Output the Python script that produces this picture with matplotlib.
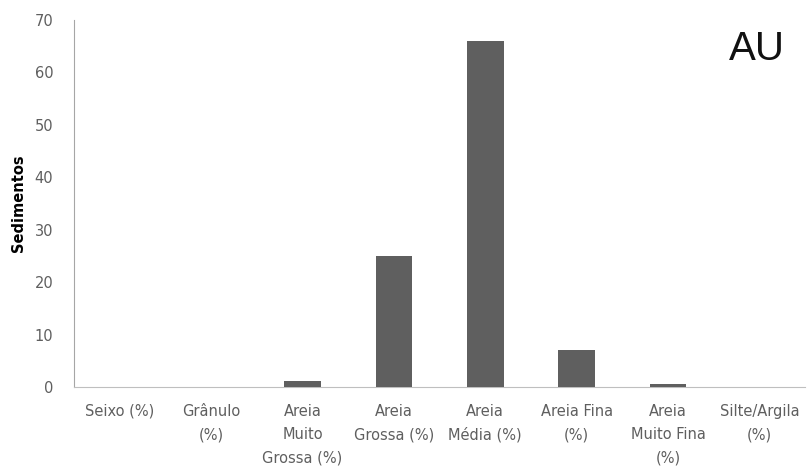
import matplotlib
matplotlib.use('Agg')
from matplotlib import pyplot as plt

categorias = ['Seixo (%)', 'Grânulo\n(%)', 'Areia\nMuito\nGrossa (%)', 'Areia\nGrossa (%)',
              'Areia\nMédia (%)', 'Areia Fina\n(%)', 'Areia\nMuito Fina\n(%)', 'Silte/Argila\n(%)']
valores = [0, 0, 1.1, 25, 66, 7, 0.5, 0]
yticks = [0, 10, 20, 30, 40, 50, 60, 70]

plt.rcParams['font.family'] = ['DejaVu Sans']

fig = plt.figure(figsize=(8.07, 4.72), dpi=100)
ax = fig.add_axes([0.0917, 0.18, 0.906, 0.778])

x = range(len(categorias))
ax.bar(x, valores, width=0.4, color='#5f5f5f', zorder=3)

ax.set_xlim(-0.5, len(categorias) - 0.5)
ax.set_ylim(0, 70)
ax.set_yticks(yticks)
ax.set_xticks(list(x))
ax.set_xticklabels(categorias, fontsize=10.5, color='#5f5f5f', linespacing=1.7)
ax.tick_params(axis='y', labelsize=10.5, labelcolor='#5f5f5f', length=0, pad=15)
ax.tick_params(axis='x', length=0, pad=12)

for s in ['top', 'right']:
    ax.spines[s].set_visible(False)
ax.spines['left'].set_color('#a6a6a6')
ax.spines['bottom'].set_color('#bfbfbf')

ax.set_ylabel('Sedimentos', fontsize=10.5, fontweight='bold', labelpad=6)
ax.text(0.972, 0.891, 'AU', transform=ax.transAxes, ha='right', va='baseline',
        fontsize=29, family='Liberation Sans', color='#111111')

plt.savefig('out.png', dpi=100)
